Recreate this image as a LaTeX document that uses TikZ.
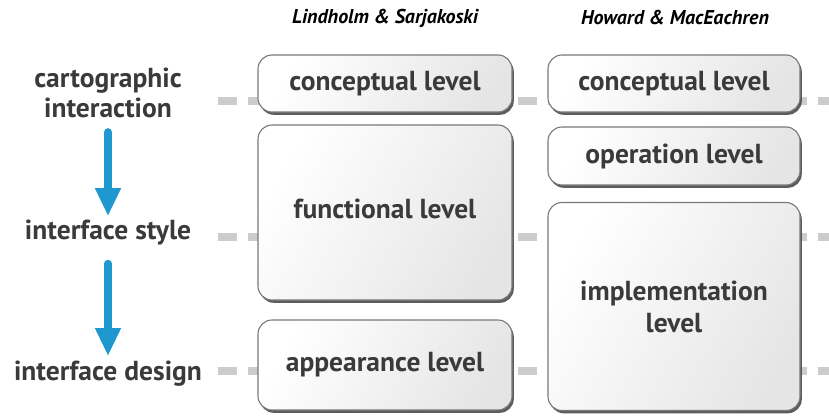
\documentclass[tikz,border=0pt]{standalone}
\usepackage{fontspec}
\setmainfont{PT Sans}
\usetikzlibrary{arrows.meta,shadows}
\definecolor{txtgray}{RGB}{58,58,58}
\definecolor{arrblue}{RGB}{30,152,207}
\definecolor{dashgray}{RGB}{204,204,204}
\definecolor{boxline}{RGB}{120,120,120}
\begin{document}
\begin{tikzpicture}[x=1pt,y=-1pt,
   lvlbox/.style={draw=boxline,line width=1.1pt,rounded corners=14pt,
      shading=axis,left color=white,right color=black!10,shading angle=60,
      drop shadow={shadow xshift=1.8pt,shadow yshift=-2.8pt,fill=black!75,opacity=0.85},
      text=txtgray,font=\bfseries\fontsize{27.5}{32}\selectfont,align=center,inner sep=0pt},
   sidelabel/.style={text=txtgray,font=\bfseries\fontsize{27.5}{30}\selectfont,align=center,inner sep=0pt},
   headlabel/.style={text=black,font=\bfseries\itshape\fontsize{20}{22}\selectfont,inner sep=0pt},
   guide/.style={dashgray,line width=8pt,dash pattern=on 19pt off 11pt},
   flow/.style={arrblue,line width=8pt,line cap=round,-{Triangle[length=28pt,width=24pt]}}]
   \useasboundingbox (0,0) rectangle (829,415);
   \coordinate (g1) at (218,101);
   \coordinate (g1e) at (829,101);
   \coordinate (g2) at (218,237);
   \coordinate (g2e) at (829,237);
   \coordinate (g3) at (218,371);
   \coordinate (g3e) at (829,371);
   \draw [guide] (g1) -- (g1e);
   \draw [guide] (g2) -- (g2e);
   \draw [guide] (g3) -- (g3e);
   \node [headlabel] (hls) at (385,18) {Lindholm \& Sarjakoski};
   \node [headlabel] (hhm) at (675,18) {Howard \& MacEachren};
   \node [sidelabel] (ci) at (108,93) {cartographic\\interaction};
   \node [sidelabel] (is) at (108,233) {interface style};
   \node [sidelabel] (id) at (108,374) {interface design};
   \draw [flow] ([yshift=-14pt]ci.south) -- ([yshift=4pt]is.north);
   \draw [flow] ([yshift=-18pt]is.south) -- ([yshift=5pt]id.north);
   \node [lvlbox,minimum width=254pt,minimum height=57pt] (clL) at (385,83.5) {conceptual level};
   \node [lvlbox,minimum width=254pt,minimum height=175pt] (fl) at (385,212.5) {\raisebox{7pt}{functional level}};
   \node [lvlbox,minimum width=254pt,minimum height=90pt] (al) at (385,365) {appearance level};
   \node [lvlbox,minimum width=252pt,minimum height=57pt] (clR) at (674,83.5) {conceptual level};
   \node [lvlbox,minimum width=252pt,minimum height=58pt] (ol) at (674,156) {operation level};
   \node [lvlbox,minimum width=252pt,minimum height=208pt] (il) at (674,306.5) {implementation\\level};
\end{tikzpicture}
\end{document}
